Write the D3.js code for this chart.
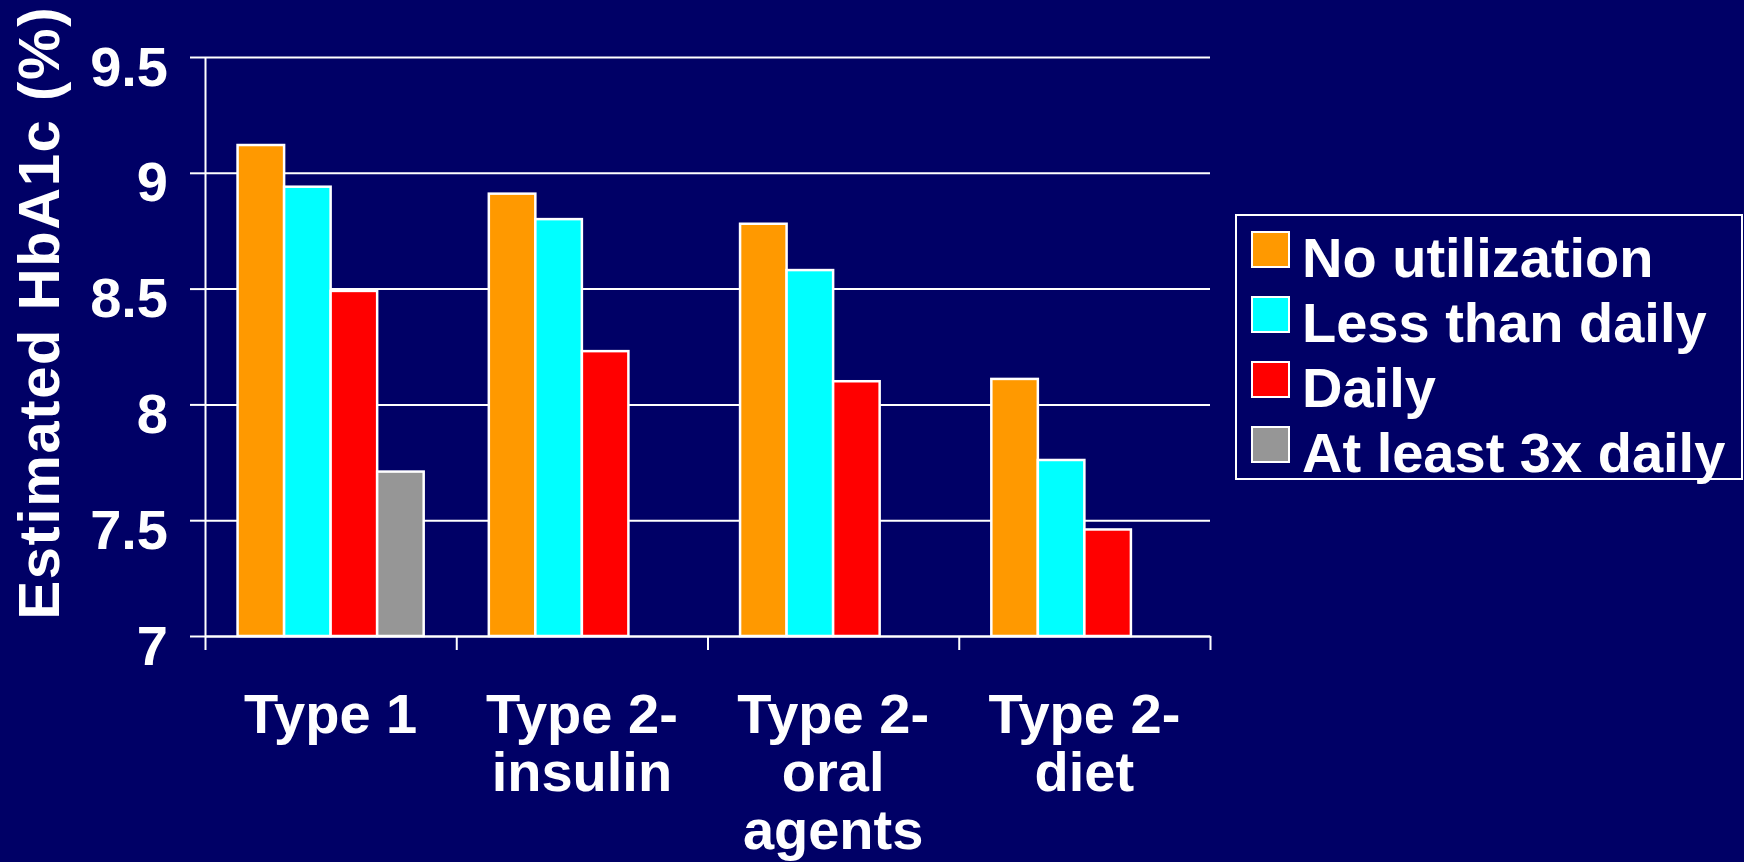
<!DOCTYPE html>
<html>
<head>
<meta charset="utf-8">
<script src="https://cdn.jsdelivr.net/npm/d3@7"></script>
<style>
  html, body { margin: 0; padding: 0; background: #000066; }
  svg { display: block; }
  text { font-family: "Liberation Sans", Arial, Helvetica, sans-serif; font-weight: bold; fill: #ffffff; }
</style>
</head>
<body>
<svg id="chart" width="1744" height="862"></svg>
<script>
// Estimated HbA1c by diabetes group and frequency of glucose self-monitoring
const categories = ["Type 1", "Type 2-\ninsulin", "Type 2-\noral\nagents", "Type 2-\ndiet"];
const seriesNames = ["No utilization", "Less than daily", "Daily", "At least 3x daily"];
const noUtilization  = [9.12, 8.91, 8.78, 8.11];
const lessThanDaily  = [8.94, 8.80, 8.58, 7.76];
const daily          = [8.49, 8.23, 8.10, 7.46];
const atLeast3xDaily = [7.71, null, null, null];
const yTicks = [7, 7.5, 8, 8.5, 9, 9.5];
const yTickLabels = ["7", "7.5", "8", "8.5", "9", "9.5"];
const yTitle = "Estimated HbA1c (%)";
const colors = ["#FF9900", "#00FFFF", "#FF0000", "#969696"];

const seriesValues = [noUtilization, lessThanDaily, daily, atLeast3xDaily];

const svg = d3.select("#chart");
const W = 1744, H = 862;
const plot = { left: 205, right: 1210, top: 57, bottom: 636 };

svg.append("rect").attr("width", W).attr("height", H).attr("fill", "#000066");

const y = d3.scaleLinear().domain([7, 9.5]).range([plot.bottom, plot.top]);
const x0 = d3.scaleBand().domain(categories).range([plot.left, plot.right]).paddingInner(0).paddingOuter(0);
const x1 = d3.scaleBand().domain(seriesNames).range([0, x0.bandwidth()]).paddingInner(0).paddingOuter(0.7);

// horizontal gridlines
const grid = svg.append("g")
  .attr("transform", `translate(${plot.left},0)`)
  .call(d3.axisLeft(y).tickValues(yTicks).tickSize(-(plot.right - plot.left)).tickFormat(""));
grid.select(".domain").remove();
grid.selectAll("line").attr("stroke", "#ffffff").attr("stroke-width", 2);

// grouped bars
const rows = categories.map((c, i) => ({
  cat: c,
  vals: seriesNames.map((s, j) => ({ series: s, value: seriesValues[j][i], color: colors[j] }))
}));

svg.append("g").selectAll("g")
  .data(rows)
  .join("g")
  .attr("transform", d => `translate(${x0(d.cat)},0)`)
  .selectAll("rect")
  .data(d => d.vals.filter(v => v.value != null))
  .join("rect")
  .attr("x", d => x1(d.series))
  .attr("width", x1.bandwidth())
  .attr("y", d => y(d.value))
  .attr("height", d => y(7) - y(d.value))
  .attr("fill", d => d.color)
  .attr("stroke", "#ffffff")
  .attr("stroke-width", 2.5);

// y axis
const yAxis = svg.append("g")
  .attr("transform", `translate(${plot.left},0)`)
  .call(d3.axisLeft(y).tickValues(yTicks).tickSize(15).tickSizeOuter(0).tickPadding(22)
    .tickFormat((d, i) => yTickLabels[i]));
yAxis.select(".domain").attr("stroke", "#ffffff").attr("stroke-width", 2);
yAxis.selectAll("line").attr("stroke", "#ffffff").attr("stroke-width", 2);
yAxis.selectAll("text").attr("fill", "#ffffff").attr("dy", "0.5em")
  .style("font-size", "56px").style("font-weight", "bold")
  .style("font-family", "'Liberation Sans', Arial, sans-serif");

// x axis with ticks on category boundaries
const xEdge = d3.scaleLinear().domain([0, categories.length]).range([plot.left, plot.right]);
const xAxis = svg.append("g")
  .attr("transform", `translate(0,${plot.bottom})`)
  .call(d3.axisBottom(xEdge).tickValues(d3.range(categories.length + 1)).tickSize(14).tickSizeOuter(0).tickFormat(""));
xAxis.select(".domain").attr("stroke", "#ffffff").attr("stroke-width", 2);
xAxis.selectAll("line").attr("stroke", "#ffffff").attr("stroke-width", 2);

// category labels (multi-line)
svg.append("g").selectAll("text")
  .data(categories)
  .join("text")
  .attr("x", d => x0(d) + x0.bandwidth() / 2)
  .attr("y", 733)
  .attr("text-anchor", "middle")
  .style("font-size", "56px")
  .each(function(d) {
    const t = d3.select(this);
    d.split("\n").forEach((line, k) => {
      t.append("tspan")
        .attr("x", x0(d) + x0.bandwidth() / 2)
        .attr("dy", k === 0 ? 0 : 58)
        .text(line);
    });
  });

// y axis title
svg.append("text")
  .attr("transform", "translate(59,313.5) rotate(-90)")
  .attr("text-anchor", "middle")
  .attr("textLength", 612)
  .attr("lengthAdjust", "spacing")
  .style("font-size", "58px")
  .text(yTitle);

// legend
const legend = svg.append("g");
legend.append("rect")
  .attr("x", 1236).attr("y", 215).attr("width", 506).attr("height", 264)
  .attr("fill", "#000066").attr("stroke", "#ffffff").attr("stroke-width", 2);
const items = legend.selectAll("g.item")
  .data(seriesNames)
  .join("g")
  .attr("class", "item")
  .attr("transform", (d, i) => `translate(0,${i * 65})`);
items.append("rect")
  .attr("x", 1252).attr("y", 232).attr("width", 37).attr("height", 35)
  .attr("fill", (d, i) => colors[i])
  .attr("stroke", "#ffffff").attr("stroke-width", 2);
items.append("text")
  .attr("x", 1302).attr("y", 277)
  .style("font-size", "56px")
  .text(d => d);
</script>
</body>
</html>
